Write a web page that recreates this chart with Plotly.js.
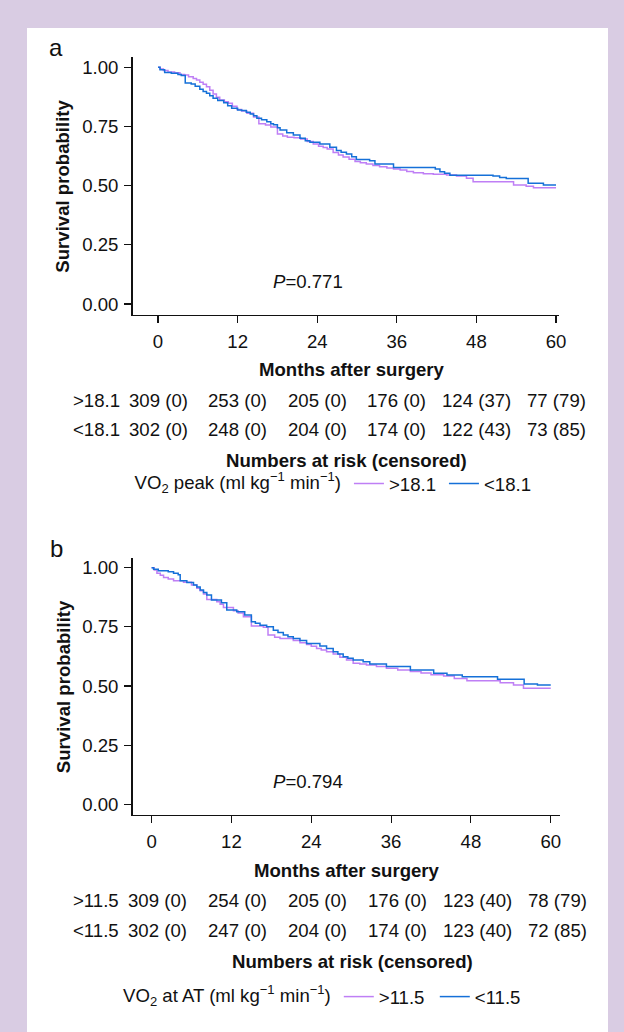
<!DOCTYPE html>
<html>
<head>
<meta charset="utf-8">
<script src="https://cdn.plot.ly/plotly-3.0.1.min.js"></script>
<style>
  html, body { margin: 0; padding: 0; background: #d9cce3; }
  #chart { width: 624px; height: 1032px; }
</style>
</head>
<body>
<div id="chart"></div>
<script>
// ---------------- DATA ----------------
const monthTicks = [0, 12, 24, 36, 48, 60];
const survTicks = [0, 0.25, 0.5, 0.75, 1];

// Panel a: VO2 peak
const aHiName = '>18.1';
const aLoName = '<18.1';
const aHiT = [0, 0.3, 0.8, 1.5, 2.5, 3.3, 4.0, 4.6, 5.3, 5.8, 6.3, 6.8, 7.3, 7.8, 8.3, 8.8, 9.3, 10.0, 10.6, 11.2, 11.9, 12.6, 13.4, 14.4, 15.2, 16.2, 17.0, 18.0, 18.8, 19.5, 20.5, 21.5, 22.5, 23.4, 24.2, 24.9, 25.5, 26.4, 27.2, 27.9, 28.8, 29.7, 30.5, 31.4, 32.4, 33.4, 34.5, 35.5, 36.5, 37.5, 38.5, 40.0, 41.5, 43.5, 45.0, 46.5, 47.5, 53.6, 55.5, 56.6, 60];
const aHiS = [1.0, 0.993, 0.987, 0.980, 0.977, 0.970, 0.967, 0.960, 0.953, 0.946, 0.937, 0.928, 0.918, 0.903, 0.887, 0.874, 0.862, 0.855, 0.848, 0.835, 0.822, 0.815, 0.806, 0.790, 0.762, 0.756, 0.748, 0.718, 0.710, 0.704, 0.702, 0.697, 0.687, 0.676, 0.666, 0.661, 0.655, 0.640, 0.630, 0.621, 0.612, 0.602, 0.597, 0.591, 0.585, 0.580, 0.575, 0.570, 0.566, 0.560, 0.555, 0.550, 0.548, 0.545, 0.541, 0.531, 0.517, 0.503, 0.498, 0.491, 0.491];
const aLoT = [0, 0.3, 1.0, 2.0, 3.0, 3.5, 4.1, 5.0, 5.6, 6.3, 6.8, 7.3, 7.8, 8.3, 9.0, 9.9, 10.5, 11.1, 12.0, 12.6, 13.3, 13.9, 14.4, 14.9, 15.6, 16.4, 17.0, 17.4, 18.0, 18.4, 19.4, 20.4, 21.4, 22.2, 22.9, 24.4, 25.9, 26.9, 27.6, 28.4, 29.2, 29.9, 31.9, 32.7, 35.5, 41.8, 42.5, 43.2, 44.0, 50.5, 51.5, 52.5, 55.8, 58.1, 60];
const aLoS = [1.0, 0.990, 0.978, 0.975, 0.970, 0.965, 0.934, 0.930, 0.920, 0.907, 0.898, 0.890, 0.880, 0.869, 0.860, 0.850, 0.838, 0.827, 0.820, 0.817, 0.810, 0.803, 0.795, 0.785, 0.778, 0.770, 0.762, 0.757, 0.745, 0.735, 0.724, 0.714, 0.700, 0.690, 0.683, 0.676, 0.662, 0.648, 0.641, 0.634, 0.622, 0.611, 0.605, 0.591, 0.577, 0.570, 0.559, 0.552, 0.544, 0.541, 0.534, 0.530, 0.510, 0.503, 0.503];
const aHiN = [309, 253, 205, 176, 124, 77];
const aHiC = [0, 0, 0, 0, 37, 79];
const aLoN = [302, 248, 204, 174, 122, 73];
const aLoC = [0, 0, 0, 0, 43, 85];
const aP = '<i>P</i>=0.771';
const aLegendTitle = 'VO<sub>2</sub> peak (ml kg<sup>\u22121</sup> min<sup>\u22121</sup>)';

// Panel b: VO2 at AT
const bHiName = '>11.5';
const bLoName = '<11.5';
const bHiT = [0, 0.4, 0.8, 1.3, 1.8, 2.5, 3.3, 4.8, 6.0, 6.8, 7.3, 7.8, 8.3, 9.8, 10.3, 10.8, 12.3, 13.0, 13.8, 15.0, 16.8, 17.5, 18.5, 19.3, 21.3, 22.3, 23.3, 24.0, 24.8, 25.5, 26.3, 27.3, 28.3, 29.3, 30.3, 31.3, 32.3, 33.8, 35.3, 37.0, 38.9, 40.5, 42.0, 43.9, 45.5, 47.4, 52.4, 54.4, 55.9, 60];
const bHiS = [1.0, 0.990, 0.977, 0.968, 0.959, 0.952, 0.945, 0.938, 0.927, 0.913, 0.903, 0.889, 0.866, 0.856, 0.845, 0.832, 0.818, 0.808, 0.793, 0.754, 0.748, 0.716, 0.706, 0.701, 0.692, 0.683, 0.675, 0.668, 0.659, 0.652, 0.645, 0.635, 0.622, 0.610, 0.596, 0.593, 0.589, 0.582, 0.575, 0.568, 0.561, 0.555, 0.548, 0.542, 0.532, 0.522, 0.514, 0.504, 0.490, 0.490];
const bLoT = [0, 0.3, 1.0, 2.5, 3.3, 4.0, 4.3, 5.3, 6.3, 6.8, 7.3, 7.8, 8.3, 9.0, 10.5, 11.3, 12.8, 14.0, 15.0, 15.6, 16.3, 17.3, 18.3, 19.0, 19.8, 20.5, 21.3, 22.3, 23.3, 25.3, 26.3, 27.3, 28.0, 28.8, 29.5, 30.3, 31.8, 32.8, 35.3, 38.9, 42.4, 44.4, 46.7, 52.0, 56.0, 58.0, 60];
const bLoS = [1.0, 0.993, 0.987, 0.983, 0.977, 0.970, 0.945, 0.937, 0.927, 0.918, 0.906, 0.895, 0.885, 0.863, 0.852, 0.821, 0.814, 0.800, 0.772, 0.765, 0.757, 0.750, 0.736, 0.726, 0.716, 0.708, 0.701, 0.692, 0.680, 0.669, 0.659, 0.645, 0.635, 0.624, 0.617, 0.610, 0.602, 0.593, 0.582, 0.568, 0.554, 0.547, 0.539, 0.528, 0.508, 0.504, 0.504];
const bHiN = [309, 254, 205, 176, 123, 78];
const bHiC = [0, 0, 0, 0, 40, 79];
const bLoN = [302, 247, 204, 174, 123, 72];
const bLoC = [0, 0, 0, 0, 40, 85];
const bP = '<i>P</i>=0.794';
const bLegendTitle = 'VO<sub>2</sub> at AT (ml kg<sup>\u22121</sup> min<sup>\u22121</sup>)';

const panelLabels = ['a', 'b'];
const xTitle = 'Months after surgery';
const yTitle = 'Survival probability';
const riskTitle = 'Numbers at risk (censored)';

// ---------------- STYLE / LAYOUT ----------------
const W = 624, H = 1032;
const FONT = 'Liberation Sans, Arial, Helvetica, sans-serif';
const FS = 18.6;
const PURPLE = '#bf7ff5';
const BLUE = '#1570d8';
const LAV = '#d9cce3';
const px = v => v / W;            // pixel x -> paper x
const py = v => 1 - v / H;        // pixel y (from top) -> paper y

function curve(t, s, name, color, xa, ya, legend) {
  return {
    x: t, y: s, name: name, type: 'scatter', mode: 'lines',
    line: {color: color, width: 1.5, shape: 'hv'},
    xaxis: xa, yaxis: ya, legend: legend, hoverinfo: 'skip'
  };
}

const data = [
  curve(aHiT, aHiS, aHiName, PURPLE, 'x', 'y', 'legend'),
  curve(aLoT, aLoS, aLoName, BLUE, 'x', 'y', 'legend'),
  curve(bHiT, bHiS, bHiName, PURPLE, 'x2', 'y2', 'legend2'),
  curve(bLoT, bLoS, bLoName, BLUE, 'x2', 'y2', 'legend2')
];

function xAxis(domain, range, anchor) {
  return {
    domain: domain, range: range, anchor: anchor,
    tickvals: monthTicks, ticktext: monthTicks.map(String),
    showline: true, linecolor: '#111', linewidth: 1.3,
    ticks: 'outside', ticklen: 7, tickwidth: 1.1, tickcolor: '#111',
    ticklabelstandoff: 2,
    showgrid: false, zeroline: false, fixedrange: true,
    tickfont: {family: FONT, size: FS, color: '#111'}
  };
}
function yAxis(domain, range, anchor) {
  return {
    domain: domain, range: range, anchor: anchor,
    tickvals: survTicks, ticktext: survTicks.map(v => v.toFixed(2)),
    showline: true, linecolor: '#111', linewidth: 1.3,
    ticks: 'outside', ticklen: 7, tickwidth: 1.1, tickcolor: '#111',
    ticklabelstandoff: 2,
    showgrid: false, zeroline: false, fixedrange: true,
    tickfont: {family: FONT, size: FS, color: '#111'}
  };
}

// panel geometry in pixels
const A = {xl: 132.5, xr: 559, yt: 57.3, yb: 315, xmin: -3.85, xmax: 60.45, ymin: -0.0465, ymax: 1.0423, top: 0, tableShift: 0};
const B = {xl: 132.5, xr: 560, yt: 558.3, yb: 815, xmin: -2.87, xmax: 61.39, ymin: -0.0452, ymax: 1.0397, top: 500.7, tableShift: 6.3};

const annotations = [];
function txt(x, y, text, opts) {
  annotations.push(Object.assign({
    xref: 'paper', yref: 'paper', x: x, y: y, text: text, showarrow: false,
    xanchor: 'center', yanchor: 'middle',
    font: {family: FONT, size: FS, color: '#111'}
  }, opts || {}));
}

function panelText(P, xref, label, pText, pPos, hiName, loName, hiN, hiC, loN, loC, xTitleX, riskTitleX) {
  const o = P.top;
  txt(px(56), py(o + 48), label, {font: {family: FONT, size: 24, color: '#111'}});
  txt(px(63), py((P.yt + P.yb) / 2 + 0.5), '<b>' + yTitle + '</b>', {textangle: -90});
  txt(px(xTitleX), py(o + 370), '<b>' + xTitle + '</b>');
  // risk table
  txt(px(71), py(o + 400), hiName, {xanchor: 'left'});
  txt(px(71), py(o + 429.3), loName, {xanchor: 'left'});
  monthTicks.forEach((m, i) => {
    txt(m, py(o + 400), hiN[i] + ' (' + hiC[i] + ')', {xref: xref, xshift: P.tableShift});
    txt(m, py(o + 429.3), loN[i] + ' (' + loC[i] + ')', {xref: xref, xshift: P.tableShift});
  });
  txt(px(riskTitleX), py(o + 460.5), '<b>' + riskTitle + '</b>');
  // P value (data coordinates)
  annotations.push({xref: xref, yref: xref === 'x' ? 'y' : 'y2', x: pPos[0], y: pPos[1], text: pText,
    showarrow: false, xanchor: 'center', yanchor: 'middle', font: {family: FONT, size: FS, color: '#111'}});
}

panelText(A, 'x', panelLabels[0], aP, [22.6, 0.094], aHiName, aLoName, aHiN, aHiC, aLoN, aLoC, 352, 346.5);
panelText(B, 'x2', panelLabels[1], bP, [23.56, 0.098], bHiName, bLoName, bHiN, bHiC, bLoN, bLoC, 346.5, 352.5);

function legendCfg(title, xpx, ypx, ew) {
  return {
    orientation: 'h', x: px(xpx), y: py(ypx), xanchor: 'left', yanchor: 'middle',
    bgcolor: 'rgba(0,0,0,0)', borderwidth: 0,
    entrywidth: ew, entrywidthmode: 'pixels',
    font: {family: FONT, size: FS, color: '#111'},
    title: {text: title, side: 'left', font: {family: FONT, size: FS, color: '#111'}},
    itemclick: false, itemdoubleclick: false, traceorder: 'normal'
  };
}

const layout = {
  width: W, height: H,
  margin: {l: 0, r: 0, t: 0, b: 0, pad: 0},
  paper_bgcolor: LAV, plot_bgcolor: 'white',
  showlegend: true,
  xaxis: xAxis([px(A.xl), px(A.xr)], [A.xmin, A.xmax], 'y'),
  yaxis: yAxis([py(A.yb), py(A.yt)], [A.ymin, A.ymax], 'x'),
  xaxis2: xAxis([px(B.xl), px(B.xr)], [B.xmin, B.xmax], 'y2'),
  yaxis2: yAxis([py(B.yb), py(B.yt)], [B.ymin, B.ymax], 'x2'),
  legend: legendCfg(aLegendTitle, 132.5, 484, 50),
  legend2: legendCfg(bLegendTitle, 121, 997, 51),
  shapes: [{type: 'rect', xref: 'paper', yref: 'paper', layer: 'below',
    x0: px(27), x1: px(608), y0: -0.02, y1: py(28), fillcolor: 'white', line: {width: 0}}],
  annotations: annotations
};

Plotly.newPlot('chart', data, layout, {staticPlot: true, displayModeBar: false});
</script>
</body>
</html>
